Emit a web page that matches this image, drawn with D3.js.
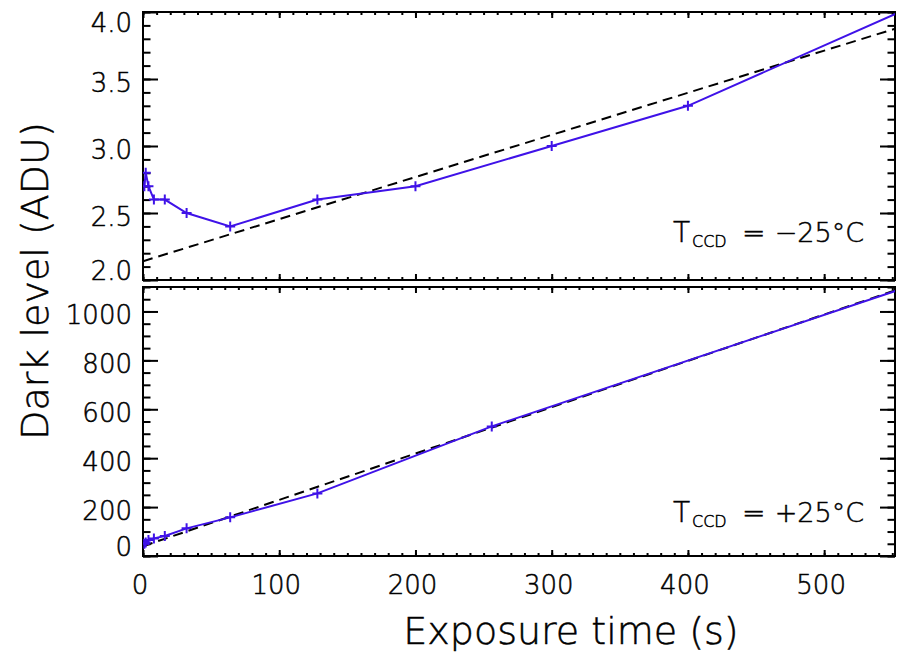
<!DOCTYPE html>
<html>
<head>
<meta charset="utf-8">
<script src="https://cdn.jsdelivr.net/npm/d3@7"></script>
<style>
  html, body { margin: 0; padding: 0; background: #fff; }
  svg { display: block; }
  text { font-family: "DejaVu Sans", sans-serif; font-weight: 200; fill: #000; stroke: #000; stroke-width: 0.5px; }
</style>
</head>
<body>
<svg id="chart" width="897" height="653"></svg>
<script>
// ---------------- data ----------------
const expTop  = [1, 2, 4, 8, 16, 32, 64, 128, 200, 300, 400, 600];
const darkTop = [2.7, 2.8, 2.7, 2.6, 2.6, 2.5, 2.4, 2.6, 2.7, 3.0, 3.3, 4.2];
const expBot  = [1, 2, 4, 8, 16, 32, 64, 128, 256, 600];
const darkBot = [50, 55, 65, 72, 82, 113, 158, 256, 530, 1173];
const fitExp  = [0, 552];
const fitTop  = [2.14, 3.875];
const fitBot  = [40, 1086];

const xTicks     = [0, 100, 200, 300, 400, 500];
const yTopTicks  = [2.0, 2.5, 3.0, 3.5, 4.0];
const yTopLabels = ["2.0", "2.5", "3.0", "3.5", "4.0"];
const yBotTicks  = [0, 200, 400, 600, 800, 1000];
const yBotLabels = ["0", "200", "400", "600", "800", "1000"];
const labelTop   = "−25°C";
const labelBot   = "+25°C";

// ---------------- layout ----------------
const L = 143, R = 895;
const T1 = 12, B1 = 280, T2 = 287, B2 = 556;
const blue = "#3f12e8";

const svg = d3.select("#chart");
const x = d3.scaleLinear().domain([0, 552]).range([L, R]);
const y1 = d3.scaleLinear().domain([2, 4]).range([B1, T1]);
const y2 = d3.scaleLinear().domain([0, 1100]).range([B2, T2]);

const xMinor = d3.range(0, 552, 10);
const y1Minor = d3.range(20, 41, 1).map(v => v / 10);
const y2Minor = d3.range(0, 1101, 50);

function clean(g) {
  g.select(".domain").remove();
  g.selectAll("line").attr("stroke", "#000").attr("stroke-width", 2);
}

function panel(id, y, top, bottom, yMajor, yMinor, yLabels, exps, vals, fitVals, label, labelY) {
  const g = svg.append("g");
  const clipId = "clip" + id;
  svg.append("clipPath").attr("id", clipId)
    .append("rect").attr("x", L).attr("y", top).attr("width", R - L).attr("height", bottom - top);

  // y ticks, left and right (inward)
  g.append("g").attr("transform", `translate(${L},0)`)
    .call(d3.axisLeft(y).tickValues(yMajor).tickSize(-15).tickFormat("")).call(clean);
  g.append("g").attr("transform", `translate(${L},0)`)
    .call(d3.axisLeft(y).tickValues(yMinor).tickSize(-7.5).tickFormat("")).call(clean);
  g.append("g").attr("transform", `translate(${R},0)`)
    .call(d3.axisRight(y).tickValues(yMajor).tickSize(-15).tickFormat("")).call(clean);
  g.append("g").attr("transform", `translate(${R},0)`)
    .call(d3.axisRight(y).tickValues(yMinor).tickSize(-7.5).tickFormat("")).call(clean);
  // x ticks, bottom and top (inward)
  g.append("g").attr("transform", `translate(0,${bottom})`)
    .call(d3.axisBottom(x).tickValues(xTicks).tickSize(-6).tickFormat("")).call(clean);
  g.append("g").attr("transform", `translate(0,${bottom})`)
    .call(d3.axisBottom(x).tickValues(xMinor).tickSize(-3).tickFormat("")).call(clean);
  g.append("g").attr("transform", `translate(0,${top})`)
    .call(d3.axisTop(x).tickValues(xTicks).tickSize(-6).tickFormat("")).call(clean);
  g.append("g").attr("transform", `translate(0,${top})`)
    .call(d3.axisTop(x).tickValues(xMinor).tickSize(-3).tickFormat("")).call(clean);

  // y tick labels
  g.selectAll(".ylab").data(yMajor).enter().append("text")
    .attr("x", 132)
    .attr("y", (d) => Math.max(top + 11, Math.min(bottom - 9, y(d) + 4)))
    .attr("dominant-baseline", "central")
    .attr("text-anchor", "end")
    .attr("font-size", 26)
    .text((d, i) => yLabels[i]);

  // frame
  g.append("rect").attr("x", L).attr("y", top).attr("width", R - L).attr("height", bottom - top)
    .attr("fill", "none").attr("stroke", "#000").attr("stroke-width", 2);

  const data = g.append("g").attr("clip-path", `url(#${clipId})`);
  // fit line (dashed)
  data.append("path")
    .datum(fitExp.map((e, i) => [e, fitVals[i]]))
    .attr("d", d3.line().x(d => x(d[0])).y(d => y(d[1])))
    .attr("fill", "none").attr("stroke", "#000").attr("stroke-width", 2)
    .attr("stroke-dasharray", "10,6");
  // data line
  const pts = exps.map((e, i) => [e, vals[i]]);
  data.append("path").datum(pts)
    .attr("d", d3.line().x(d => x(d[0])).y(d => y(d[1])))
    .attr("fill", "none").attr("stroke", blue).attr("stroke-width", 2);
  // plus markers
  data.selectAll(".pm").data(pts).enter().append("path")
    .attr("transform", d => `translate(${x(d[0])},${y(d[1])})`)
    .attr("d", "M-5,0H5M0,-5V5")
    .attr("stroke", blue).attr("stroke-width", 2).attr("fill", "none");

  // annotation
  g.append("text").attr("x", 673).attr("y", labelY).attr("font-size", 28).text("T");
  g.append("text").attr("x", 692).attr("y", labelY + 5).attr("font-size", 16).text("CCD");
  g.append("text").attr("x", 742).attr("y", labelY).attr("font-size", 28).text("=");
  g.append("text").attr("x", 864).attr("y", labelY).attr("font-size", 27)
    .attr("text-anchor", "end").text(label);
}

panel("a", y1, T1, B1, yTopTicks, y1Minor, yTopLabels, expTop, darkTop, fitTop, labelTop, 242);
panel("b", y2, T2, B2, yBotTicks, y2Minor, yBotLabels, expBot, darkBot, fitBot, labelBot, 522);

// x tick labels
svg.selectAll(".xlab").data(xTicks).enter().append("text")
  .attr("x", d => x(d) - 3)
  .attr("y", B2 + 29)
  .attr("dominant-baseline", "central")
  .attr("text-anchor", "middle")
  .attr("font-size", 26)
  .text(d => d);

// axis titles
svg.append("text")
  .attr("x", 571).attr("y", 631)
  .attr("dominant-baseline", "central")
  .attr("text-anchor", "middle")
  .attr("font-size", 38)
  .text("Exposure time (s)");

svg.append("text")
  .attr("transform", "translate(35,281) rotate(-90)")
  .attr("dominant-baseline", "central")
  .attr("text-anchor", "middle")
  .attr("font-size", 38)
  .text("Dark level (ADU)");
</script>
</body>
</html>
